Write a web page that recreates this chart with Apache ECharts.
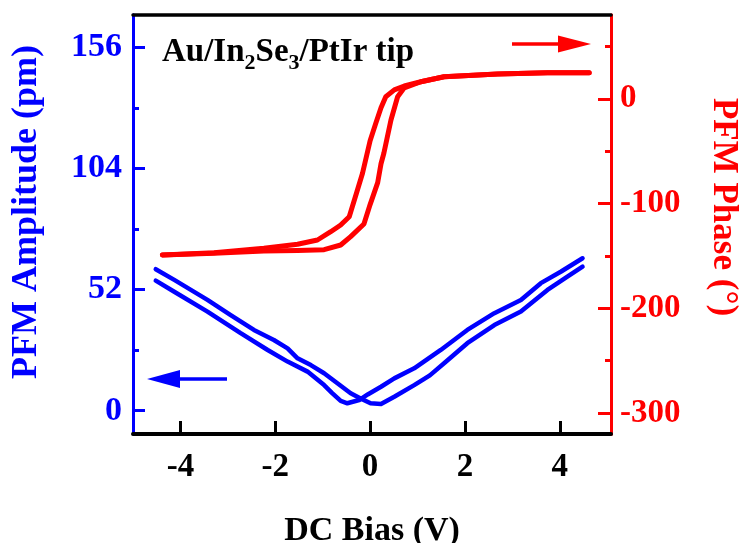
<!DOCTYPE html>
<html>
<head>
<meta charset="utf-8">
<script src="https://cdn.jsdelivr.net/npm/echarts@6/dist/echarts.min.js"></script>
<style>
  html, body { margin: 0; padding: 0; background: #ffffff; }
  #chart { width: 744px; height: 543px; }
</style>
</head>
<body>
<div id="chart"></div>
<script>
// Axis ticks
const biasTicks = [-4, -2, 0, 2, 4];
const ampTicks = [0, 52, 104, 156];
const ampMinorTicks = [26, 78, 130];
const phaseTicks = [-300, -200, -100, 0];
const phaseMinorTicks = [-250, -150, -50, 50];

// PFM amplitude loop, branch with minimum near +0.1 V
const ampBranchAV = [-4.52, -4.13, -3.43, -2.94, -2.45, -2.03, -1.74, -1.53, -1.25, -0.97, -0.69, -0.41, -0.20, 0.01, 0.23, 0.51, 0.93, 1.26, 1.56, 2.05, 2.62, 3.18, 3.74, 4.16, 4.48];
const ampBranchA  = [60.8, 56.2, 47.6, 41.1, 34.7, 30.4, 26.8, 22.5, 19.6, 16.1, 11.8, 7.5, 5.3, 3.2, 2.9, 6.0, 11.0, 15.2, 20.4, 29.0, 36.8, 42.6, 51.9, 57.6, 61.9];

// PFM amplitude loop, branch with minimum near -0.5 V
const ampBranchBV = [-4.52, -4.13, -3.43, -2.73, -2.16, -1.74, -1.32, -0.97, -0.80, -0.62, -0.48, -0.23, -0.05, 0.23, 0.51, 0.93, 1.49, 2.05, 2.62, 3.18, 3.60, 4.02, 4.48];
const ampBranchB  = [55.9, 51.1, 42.6, 33.3, 26.1, 21.1, 16.8, 11.0, 7.6, 4.2, 3.2, 4.6, 7.0, 10.3, 13.9, 18.2, 26.1, 34.7, 41.9, 47.6, 54.8, 59.7, 65.5];

// PFM phase loop, branch switching at positive bias
const phaseUpV = [-4.38, -3.29, -2.24, -1.53, -0.97, -0.62, -0.41, -0.13, 0.00, 0.16, 0.23, 0.29, 0.44, 0.58, 0.72, 1.07, 1.56, 2.69, 3.74, 4.62];
const phaseUp  = [-149.1, -147.5, -145.3, -144.8, -144.0, -139.6, -131.6, -119.5, -101.0, -80.0, -62.0, -52.0, -20.2, 2.0, 10.5, 16.3, 21.1, 23.7, 24.9, 24.9];

// PFM phase loop, branch switching at negative bias
const phaseDownV = [4.62, 3.74, 2.69, 1.56, 1.07, 0.72, 0.51, 0.33, 0.23, 0.12, 0.00, -0.16, -0.28, -0.44, -0.62, -0.83, -1.11, -1.53, -2.24, -3.29, -4.38];
const phaseDown  = [24.9, 24.9, 23.7, 21.1, 16.3, 12.2, 8.5, 2.0, -8.5, -23.4, -40.0, -71.1, -89.0, -112.6, -120.5, -126.9, -134.8, -138.9, -142.7, -146.9, -149.1];

const BLUE = '#0000ff';
const RED = '#ff0000';
const BLACK = '#000000';
const FONT = '"Liberation Serif", "Times New Roman", serif';

const pairs = (xs, ys) => xs.map((x, i) => [x, ys[i]]);

const chart = echarts.init(document.getElementById('chart'), null, { renderer: 'canvas' });

const lineSeries = (name, xs, ys, yIdx, color, width) => ({
  name: name,
  type: 'line',
  xAxisIndex: 0,
  yAxisIndex: yIdx,
  data: pairs(xs, ys),
  symbol: 'none',
  showSymbol: false,
  animation: false,
  lineStyle: { color: color, width: width, cap: 'round', join: 'round' }
});

// second axis on the same side that only carries the short minor ticks
const minorAxis = (pos, min, max, color, values) => ({
  type: 'value', position: pos, min: min, max: max,
  axisLine: { show: true, onZero: false, lineStyle: { color: color, width: 3 } },
  axisTick: { show: true, inside: true, length: 6, lineStyle: { color: color, width: 3 }, customValues: values },
  axisLabel: { show: false }, splitLine: { show: false }
});

const option = {
  backgroundColor: '#ffffff',
  animation: false,
  grid: { left: 133, right: 133, top: 15, bottom: 109, containLabel: false, outerBoundsMode: 'none' },
  xAxis: [
    {
      type: 'value', position: 'bottom', min: -5, max: 5.08,
      name: 'DC Bias (V)', nameLocation: 'middle', nameGap: 80,
      nameTextStyle: { fontFamily: FONT, fontWeight: 'bold', fontSize: 34, color: BLACK },
      axisLine: { show: true, onZero: false, lineStyle: { color: BLACK, width: 4 } },
      axisTick: { show: true, inside: true, length: 13, lineStyle: { color: BLACK, width: 3 }, customValues: biasTicks },
      axisLabel: { show: true, margin: 17, fontFamily: FONT, fontWeight: 'bold', fontSize: 33, color: BLACK, customValues: biasTicks },
      splitLine: { show: false }
    },
    {
      type: 'value', position: 'top', min: -5, max: 5.08,
      axisLine: { show: true, onZero: false, lineStyle: { color: BLACK, width: 3.5 } },
      axisTick: { show: false }, axisLabel: { show: false }, splitLine: { show: false }
    }
  ],
  yAxis: [
    {
      type: 'value', position: 'left', min: -10, max: 170,
      name: 'PFM Amplitude (pm)', nameLocation: 'middle', nameGap: 88, nameRotate: 90,
      nameTextStyle: { fontFamily: FONT, fontWeight: 'bold', fontSize: 36, color: BLUE, padding: [0, 0, 0, 25] },
      axisLine: { show: true, onZero: false, lineStyle: { color: BLUE, width: 3 } },
      axisTick: { show: true, inside: true, length: 12, lineStyle: { color: BLUE, width: 3 }, customValues: ampTicks },
      axisLabel: { show: true, margin: 11, fontFamily: FONT, fontWeight: 'bold', fontSize: 34, color: BLUE, customValues: ampTicks },
      splitLine: { show: false }
    },
    minorAxis('left', -10, 170, BLUE, ampMinorTicks),
    {
      type: 'value', position: 'right', min: -320, max: 80,
      name: 'PFM Phase (°)', nameLocation: 'middle', nameGap: 95, nameRotate: -90,
      nameTextStyle: { fontFamily: FONT, fontWeight: 'bold', fontSize: 35, color: RED, padding: [0, 35, 0, 0] },
      axisLine: { show: true, onZero: false, lineStyle: { color: RED, width: 3 } },
      axisTick: { show: true, inside: true, length: 13, lineStyle: { color: RED, width: 3 }, customValues: phaseTicks },
      axisLabel: { show: true, margin: 9, fontFamily: FONT, fontWeight: 'bold', fontSize: 33, color: RED, customValues: phaseTicks },
      splitLine: { show: false }
    },
    minorAxis('right', -320, 80, RED, phaseMinorTicks)
  ],
  series: [
    lineSeries('Amplitude A', ampBranchAV, ampBranchA, 0, BLUE, 4.5),
    lineSeries('Amplitude B', ampBranchBV, ampBranchB, 0, BLUE, 4.5),
    lineSeries('Phase up', phaseUpV, phaseUp, 2, RED, 5),
    lineSeries('Phase down', phaseDownV, phaseDown, 2, RED, 5)
  ],
  graphic: [
    {
      type: 'text', left: 162, top: 36, z: 10,
      style: {
        text: '{m|Au/In}{s|2}{m|Se}{s|3}{m|/PtIr tip}',
        rich: {
          m: { fontFamily: FONT, fontWeight: 'bold', fontSize: 33, lineHeight: 36, color: BLACK, verticalAlign: 'top' },
          s: { fontFamily: FONT, fontWeight: 'bold', fontSize: 22, lineHeight: 24, color: BLACK, verticalAlign: 'top', padding: [16, 0, 0, 0] }
        }
      }
    },
    // direction arrow for the amplitude axis
    { type: 'line', z: 10, shape: { x1: 176, y1: 379, x2: 227, y2: 379 }, style: { stroke: BLUE, lineWidth: 3.5 } },
    { type: 'polygon', z: 10, shape: { points: [[147, 379], [180, 370], [180, 388]] }, style: { fill: BLUE } },
    // direction arrow for the phase axis
    { type: 'line', z: 10, shape: { x1: 512, y1: 44, x2: 562, y2: 44 }, style: { stroke: RED, lineWidth: 3.5 } },
    { type: 'polygon', z: 10, shape: { points: [[591, 44], [558, 35.5], [558, 52.5]] }, style: { fill: RED } }
  ]
};

chart.setOption(option);
</script>
</body>
</html>
